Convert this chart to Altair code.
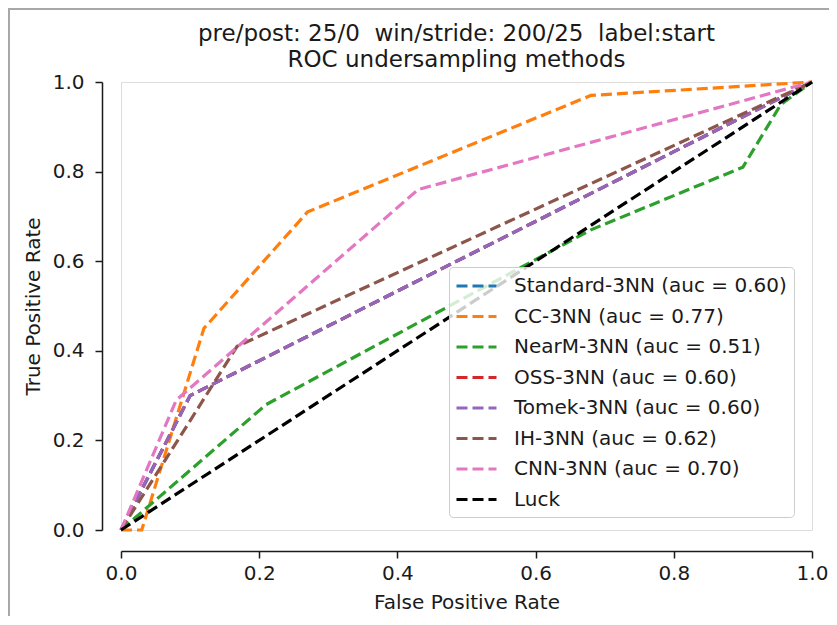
import altair as alt
import pandas as pd

series_names = [
    "Standard-3NN (auc = 0.60)",
    "CC-3NN (auc = 0.77)",
    "NearM-3NN (auc = 0.51)",
    "OSS-3NN (auc = 0.60)",
    "Tomek-3NN (auc = 0.60)",
    "IH-3NN (auc = 0.62)",
    "CNN-3NN (auc = 0.70)",
    "Luck",
]
series_colors = ["#1f77b4", "#ff7f0e", "#2ca02c", "#d62728",
                 "#9467bd", "#8c564b", "#e377c2", "#000000"]

standard_fpr = [0.0, 0.10, 1.0]
standard_tpr = [0.0, 0.30, 1.0]
cc_fpr = [0.0, 0.03, 0.12, 0.27, 0.68, 1.0]
cc_tpr = [0.0, 0.0, 0.45, 0.71, 0.97, 1.0]
nearm_fpr = [0.0, 0.21, 0.68, 0.90, 0.955, 1.0]
nearm_tpr = [0.0, 0.28, 0.67, 0.81, 0.95, 1.0]
oss_fpr = [0.0, 0.10, 1.0]
oss_tpr = [0.0, 0.30, 1.0]
tomek_fpr = [0.0, 0.10, 1.0]
tomek_tpr = [0.0, 0.30, 1.0]
ih_fpr = [0.0, 0.168, 1.0]
ih_tpr = [0.0, 0.41, 1.0]
cnn_fpr = [0.0, 0.08, 0.43, 1.0]
cnn_tpr = [0.0, 0.29, 0.76, 1.0]
luck_fpr = [0.0, 1.0]
luck_tpr = [0.0, 1.0]

NB = "\u00a0"
title_lines = [f"pre/post: 25/0 {NB}win/stride: 200/25 {NB}label:start",
               "ROC undersampling methods"]
x_title = "False Positive Rate"
y_title = "True Positive Rate"
tick_values = [0.0, 0.2, 0.4, 0.6, 0.8, 1.0]

curves = [
    (standard_fpr, standard_tpr), (cc_fpr, cc_tpr), (nearm_fpr, nearm_tpr),
    (oss_fpr, oss_tpr), (tomek_fpr, tomek_tpr), (ih_fpr, ih_tpr),
    (cnn_fpr, cnn_tpr), (luck_fpr, luck_tpr),
]
rows = []
for name, (fx, ty) in zip(series_names, curves):
    for i, (a, b) in enumerate(zip(fx, ty)):
        rows.append({"series": name, "fpr": a, "tpr": b, "idx": i})
df = pd.DataFrame(rows)

FONT = "DejaVu Sans"
TXT = "#1a1a1a"

lines = alt.Chart(df).mark_line(strokeDash=[11, 5], strokeWidth=3.2, clip=False).encode(
    x=alt.X("fpr:Q",
            scale=alt.Scale(domain=[0, 1], nice=False, zero=False),
            axis=alt.Axis(title=x_title, values=tick_values, format=".1f",
                          offset=21, grid=False, tickSize=7, tickWidth=1.5,
                          domainWidth=1.5, domainColor=TXT, tickColor=TXT,
                          labelColor=TXT, titleColor=TXT,
                          labelFont=FONT, titleFont=FONT,
                          labelFontSize=20, titleFontSize=20,
                          titleFontWeight="normal", labelFlush=False,
                          labelOverlap=False, labelPadding=5, titlePadding=9)),
    y=alt.Y("tpr:Q",
            scale=alt.Scale(domain=[0, 1], nice=False, zero=False),
            axis=alt.Axis(title=y_title, values=tick_values, format=".1f",
                          offset=19, grid=False, tickSize=7, tickWidth=1.5,
                          domainWidth=1.5, domainColor=TXT, tickColor=TXT,
                          labelColor=TXT, titleColor=TXT,
                          labelFont=FONT, titleFont=FONT,
                          labelFontSize=20, titleFontSize=20,
                          titleFontWeight="normal", labelFlush=False,
                          labelOverlap=False, labelPadding=11, titlePadding=9)),
    color=alt.Color("series:N",
                    scale=alt.Scale(domain=series_names, range=series_colors),
                    sort=series_names,
                    legend=alt.Legend(
                        title=None, orient="none", legendX=328, legendY=185,
                        symbolType="M-1.15,0H2.85", symbolSize=400,
                        symbolStrokeWidth=3.2, symbolDash=[11, 5],
                        labelFont=FONT, labelFontSize=20, labelColor=TXT,
                        labelLimit=0, labelOffset=34, rowPadding=8.5, padding=7,
                        strokeColor="#cccccc", fillColor="rgba(255,255,255,0.8)",
                        cornerRadius=4)),
    order=alt.Order("idx:Q"),
    detail="series:N",
)

frame_df = pd.DataFrame({"k": [0]})
frame_left = alt.Chart(frame_df).mark_rule(color="#a8a8a8", strokeWidth=2).encode(
    x=alt.value(-112), y=alt.value(-74), y2=alt.value(545))
frame_top = alt.Chart(frame_df).mark_rule(color="#a8a8a8", strokeWidth=2).encode(
    y=alt.value(-73), x=alt.value(-113), x2=alt.value(720))

chart = alt.layer(lines, frame_left, frame_top).properties(
    width=691, height=448,
    title=alt.TitleParams(text=title_lines, fontSize=23, fontWeight="normal",
                          font=FONT, color=TXT, anchor="middle", offset=-65,
                          lineHeight=26, dx=-10),
    autosize=alt.AutoSizeParams(type="none"),
    padding={"left": 113, "top": 74, "right": 17, "bottom": 86},
).configure_view(stroke=None).configure(background="white")

chart.save("out.html", embed_options={"renderer": "svg", "actions": False})
